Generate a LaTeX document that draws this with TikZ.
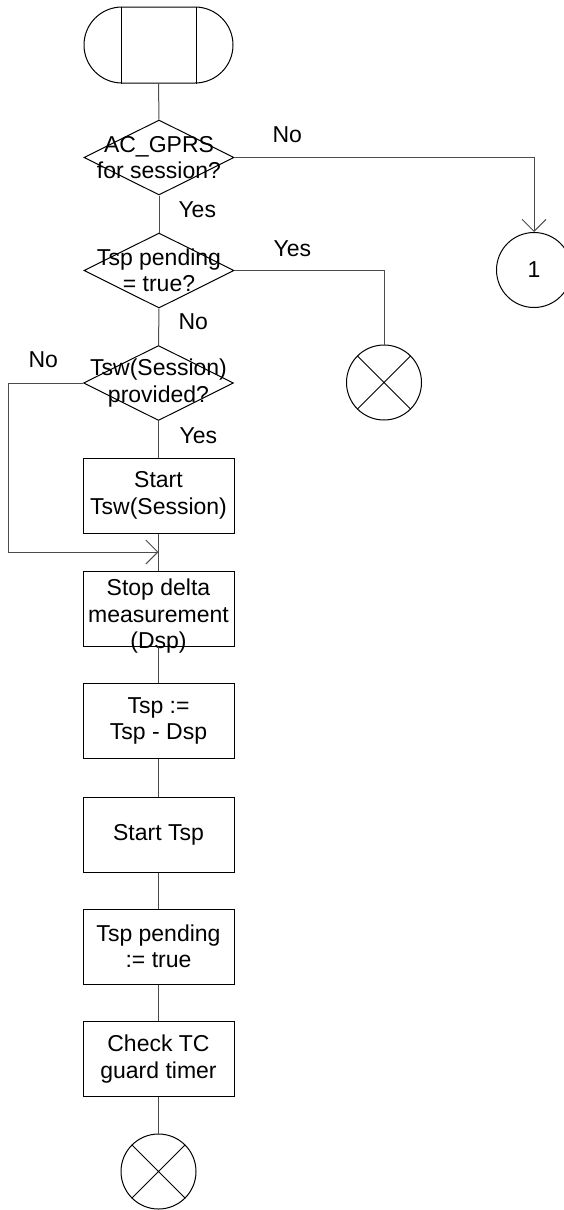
\documentclass[tikz,border=0pt]{standalone}
\usepackage{fontspec}
\setmainfont{Liberation Sans}
\usetikzlibrary{shapes.geometric,shapes.misc,arrows.meta,calc}
\begin{document}
\begin{tikzpicture}[x=1pt,y=-1pt,line width=1pt,
  every node/.style={font=\fontsize{23}{26.5}\selectfont},
  conn/.style={draw=black!70,line width=1pt},
  arr/.style={-{Straight Barb[length=12pt,width=24pt]}},
  term/.style={rounded rectangle,draw,minimum width=149pt,minimum height=76pt,inner sep=0pt},
  dec/.style={diamond,draw,minimum width=150pt,minimum height=75pt,inner sep=0pt},
  proc/.style={rectangle,draw,minimum width=151pt,minimum height=75pt,inner sep=0pt,align=center},
  txt/.style={align=center,inner sep=0pt},
  lab/.style={inner sep=0pt,anchor=west},
  conncirc/.style={circle,draw,minimum size=75pt,inner sep=0pt},
  stopcirc/.style={circle,draw,minimum size=75pt,inner sep=0pt}
]
\clip (0,0) rectangle (564,1210);
% start terminal
\node[term] (start) at (158.5,45) {};
\draw ($(start.north)+(-37.5,0)$) -- ($(start.south)+(-37.5,0)$);
\draw ($(start.north)+(37.5,0)$) -- ($(start.south)+(37.5,0)$);
% decisions
\node[dec] (d1) at (159,157.5) {};
\node[txt] (t1) at (d1.center) {AC\_GPRS\\for session?};
\node[dec] (d2) at (159,270.5) {};
\node[txt] (t2) at (d2.center) {Tsp pending\\= true?};
\node[dec] (d3) at (158.5,383) {};
\node[txt] (t3) at (d3.center) {Tsw(Session)\\provided?};
% processes
\node[proc] (b1) at (158.5,495.5) {Start\\Tsw(Session)};
\node[proc] (b2) at (158.5,608.5) {};
\node[txt] (t4) at ($(b2.center)+(0,8)$) {Stop delta\\measurement\\(Dsp)};
\node[proc] (b3) at (158.5,721) {Tsp :=\\Tsp - Dsp};
\node[proc] (b4) at (158.5,834.5) {Start Tsp};
\node[proc] (b5) at (158.5,946.5) {Tsp pending\\:= true};
\node[proc] (b6) at (158.5,1059) {Check TC\\guard timer};
% end symbols
\node[stopcirc] (x2) at (158.5,1171.5) {};
\draw (x2.north west) -- (x2.south east) (x2.north east) -- (x2.south west);
\node[stopcirc] (x1) at (384,382.5) {};
\draw (x1.north west) -- (x1.south east) (x1.north east) -- (x1.south west);
\node[conncirc] (c1) at (534,270) {1};
% connectors
\draw[conn] (start.south) -- (d1.north);
\draw[conn] (d1.south) -- (d2.north);
\draw[conn] (d2.south) -- (d3.north);
\draw[conn] (d3.south) -- (b1.north);
\draw[conn] (b1.south) -- (b2.north);
\draw[conn] (b2.south) -- (b3.north);
\draw[conn] (b3.south) -- (b4.north);
\draw[conn] (b4.south) -- (b5.north);
\draw[conn] (b5.south) -- (b6.north);
\draw[conn] (b6.south) -- (x2.north);
\draw[conn,arr] (d1.east) -| (c1.north);
\draw[conn] (d2.east) -| (x1.north);
\coordinate (m) at (158.5,552);
\draw[conn,arr] (d3.west) -- ++(-75,0) |- (m);
% labels
\node[lab] (l1) at (272,135) {No};
\node[lab] (l2) at (178,210) {Yes};
\node[lab] (l3) at (273,249) {Yes};
\node[lab] (l4) at (178,322) {No};
\node[lab] (l5) at (28,360) {No};
\node[lab] (l6) at (179,436) {Yes};
\end{tikzpicture}
\end{document}
